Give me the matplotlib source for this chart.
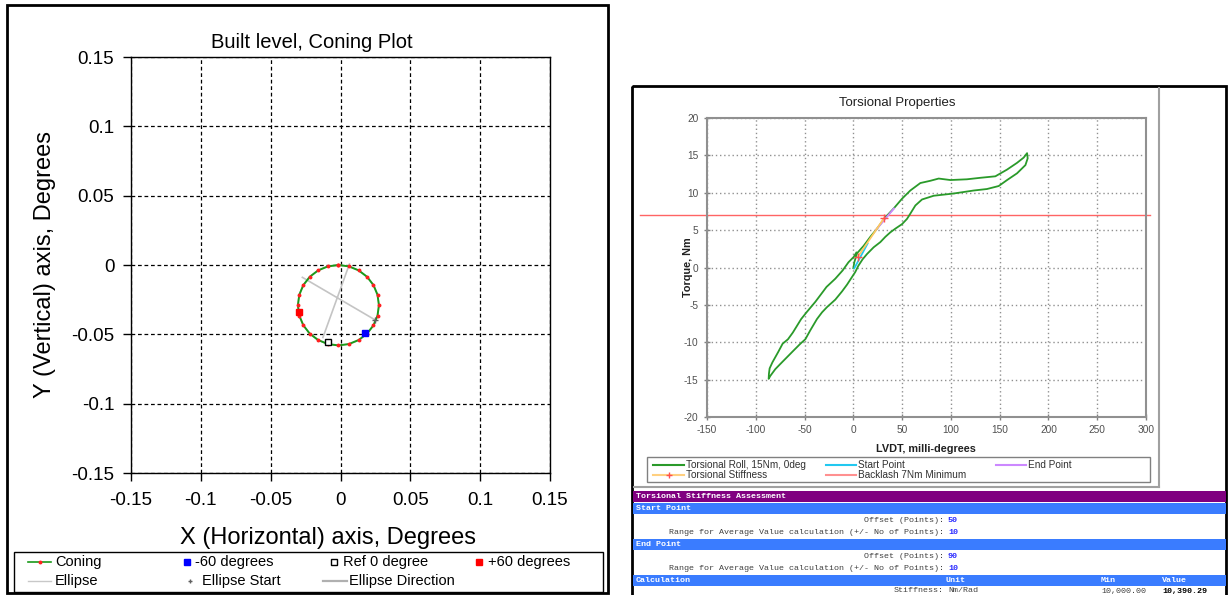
import matplotlib
matplotlib.use('Agg')
import matplotlib.pyplot as plt
from matplotlib.lines import Line2D
from matplotlib.patches import Rectangle
import numpy as np

W, H = 1231, 595
plt.rcParams['font.family'] = ['Liberation Sans', 'DejaVu Sans']
plt.rcParams['axes.unicode_minus'] = False

# ---------------- Left chart data ----------------
coning_x = [-0.0015, 0.0060, 0.0130, 0.0190, 0.0236, 0.0265, 0.0275, 0.0265, 0.0236, 0.0190,
            0.0130, 0.0060, -0.0015, -0.0090, -0.0160, -0.0220, -0.0266, -0.0295, -0.0305,
            -0.0295, -0.0266, -0.0220, -0.0160, -0.0090, -0.0015]
coning_y = [0.0000, -0.0010, -0.0039, -0.0085, -0.0145, -0.0215, -0.0290, -0.0365, -0.0435, -0.0495,
            -0.0541, -0.0570, -0.0580, -0.0570, -0.0541, -0.0495, -0.0435, -0.0365, -0.0290,
            -0.0215, -0.0145, -0.0085, -0.0039, -0.0010, 0.0000]
ellipse_x = [-0.0015, 0.0062, 0.0132, 0.0191, 0.0237, 0.0266, 0.0276, 0.0266, 0.0237, 0.0191,
             0.0132, 0.0062, -0.0015, -0.0092, -0.0162, -0.0221, -0.0267, -0.0296, -0.0306,
             -0.0296, -0.0267, -0.0221, -0.0162, -0.0092, -0.0015]
ellipse_y = [0.0001, -0.0009, -0.0038, -0.0084, -0.0144, -0.0214, -0.0290, -0.0366, -0.0436, -0.0496,
             -0.0542, -0.0571, -0.0581, -0.0571, -0.0542, -0.0496, -0.0436, -0.0366, -0.0290,
             -0.0214, -0.0144, -0.0084, -0.0038, -0.0009, 0.0001]
ellipse_dir_x = [-0.0273, 0.0248, np.nan, 0.0064, -0.0126]
ellipse_dir_y = [-0.0089, -0.0396, np.nan, 0.0007, -0.0523]
ellipse_start_x = [0.0248]
ellipse_start_y = [-0.0396]
minus60_x, minus60_y = [0.0178], [-0.0490]
ref0_x, ref0_y = [-0.0093], [-0.0553]
plus60_x, plus60_y = [-0.0300], [-0.0340]
left_ticks = [-0.15, -0.1, -0.05, 0, 0.05, 0.1, 0.15]
left_ticklabels = ['-0.15', '-0.1', '-0.05', '0', '0.05', '0.1', '0.15']

# ---------------- Right chart data ----------------
torsion_x = [0.0, 1.0, 3.8, 10.6, 17.4, 24.3, 32.8, 41.4, 49.9, 58.4, 68.7, 78.9, 87.5, 99.5,
             116.5, 130.2, 145.6, 157.6, 167.8, 174.6, 178.1,
             178.7, 176.4, 167.8, 157.6, 149.0, 137.0, 123.4, 102.9, 82.4, 70.4, 63.6, 58.4,
             55.0, 49.9, 43.1, 37.9, 32.8, 27.7, 20.8, 14.0, 9.5, 5.0, 2.0, -1.0, -6.5, -11.6,
             -18.5, -27.0, -32.1, -37.3, -44.1, -49.2, -54.3, -61.2, -68.0, -74.8, -80.0,
             -85.1, -86.8,
             -86.5, -85.8, -83.0, -77.0, -72.5, -67.0, -62.0, -53.5, -48.0, -39.0, -31.5,
             -27.5, -18.5, -11.0, -5.0, 0.3, 3.1]
torsion_y = [-0.1, 0.7, 1.9, 2.9, 4.1, 5.2, 6.7, 7.9, 9.2, 10.3, 11.3, 11.6, 11.9, 11.7,
             11.8, 12.0, 12.2, 13.1, 14.0, 14.7, 15.3,
             14.6, 13.7, 12.6, 11.7, 10.9, 10.5, 10.3, 9.9, 9.6, 9.1, 8.3, 7.2,
             6.5, 5.8, 5.2, 4.7, 4.1, 3.4, 2.7, 1.8, 1.1, 0.2, -0.6, -1.2, -2.3, -3.2,
             -4.3, -5.3, -6.0, -6.9, -8.4, -9.6, -10.2, -11.1, -12.0, -12.9, -13.6,
             -14.5, -14.9,
             -14.2, -13.5, -12.7, -11.3, -10.2, -9.6, -8.7, -6.9, -6.0, -4.6, -3.3,
             -2.6, -1.5, -0.4, 0.7, 1.4, 2.0]
start_pt_x, start_pt_y = [1.0, 14.6], [-0.1, 3.2]
end_pt_x, end_pt_y = [23.0, 41.7], [5.0, 7.9]
stiff_x, stiff_y = [4.4, 31.5], [1.4, 6.6]
backlash_x, backlash_y = [-219, 304], [7, 7]
right_xticks = [-150, -100, -50, 0, 50, 100, 150, 200, 250, 300]
right_yticks = [-20, -15, -10, -5, 0, 5, 10, 15, 20]

# table content
offset_start, range_start = '50', '10'
offset_end, range_end = '90', '10'
stiff_unit, stiff_min, stiff_value = 'Nm/Rad', '10,000.00', '10,390.29'

# ---------------- Figure ----------------
fig = plt.figure(figsize=(W / 100, H / 100), dpi=100)


def px_rect(x0, y0, x1, y1):
    return [x0 / W, 1 - y1 / H, (x1 - x0) / W, (y1 - y0) / H]


bg = fig.add_axes([0, 0, 1, 1])
bg.set_xlim(0, W)
bg.set_ylim(H, 0)
bg.axis('off')

# panel borders
bg.add_patch(Rectangle((7, 5), 601, 588, fill=False, ec='black', lw=2))
bg.add_patch(Rectangle((632, 86), 594, 530, fill=False, ec='black', lw=2))

# ---------------- Left chart ----------------
axL = fig.add_axes(px_rect(131, 57, 550, 473))
axL.plot(ellipse_x, ellipse_y, color='#c8c8c8', lw=1, zorder=2)
axL.plot(ellipse_dir_x, ellipse_dir_y, color='#c4c4c4', lw=1.2, zorder=2)
axL.plot(coning_x, coning_y, color='#1a9a1a', lw=1.4, marker='o', ms=1.8,
         mfc='#ff2020', mec='#ff2020', zorder=3)
axL.plot(ellipse_start_x, ellipse_start_y, ls='none', marker='+', ms=4, mew=1,
         color='#606060', zorder=4)
axL.plot(minus60_x, minus60_y, ls='none', marker='s', ms=4.5, color='#0000ff', zorder=5)
axL.plot(ref0_x, ref0_y, ls='none', marker='s', ms=4.5, mfc='white', mec='black', mew=1, zorder=5)
axL.plot(plus60_x, plus60_y, ls='none', marker='s', ms=4.5, color='#ff0000', zorder=5)
axL.set_xlim(-0.15, 0.15)
axL.set_ylim(-0.15, 0.15)
axL.set_xticks(left_ticks)
axL.set_xticklabels(left_ticklabels)
axL.set_yticks(left_ticks)
axL.set_yticklabels(left_ticklabels)
axL.tick_params(direction='out', length=6, width=1, labelsize=13.5, colors='black')
axL.tick_params(axis='x', pad=8)
axL.tick_params(axis='y', pad=6)
axL.grid(True, color='black', lw=0.9, linestyle=(0, (3, 2.2)))
for s in axL.spines.values():
    s.set_color('black')
    s.set_linewidth(1)

bg.text(312, 42, 'Built level, Coning Plot', fontsize=14.5, ha='center', va='center')
bg.text(328, 538, 'X (Horizontal) axis, Degrees', fontsize=17, ha='center', va='center')
bg.text(45, 265, 'Y (Vertical) axis, Degrees', fontsize=17, ha='center', va='center', rotation=90)

# left legend
bg.add_patch(Rectangle((14, 552), 589, 40, fill=False, ec='black', lw=1))
r1, r2 = 562, 581
lfs = 10.5
bg.add_line(Line2D([28, 51], [r1, r1], color='#1a9a1a', lw=1.2))
bg.add_line(Line2D([39.5], [r1], marker='o', ms=1.8, color='#ff2020', ls='none'))
bg.text(55, r1, 'Coning', fontsize=lfs, va='center')
bg.add_line(Line2D([187], [r1], marker='s', ms=4.5, color='#0000ff', ls='none'))
bg.text(195, r1, '-60 degrees', fontsize=lfs, va='center')
bg.add_line(Line2D([334], [r1], marker='s', ms=4.5, mfc='white', mec='black', ls='none'))
bg.text(343, r1, 'Ref 0 degree', fontsize=lfs, va='center')
bg.add_line(Line2D([479], [r1], marker='s', ms=4.5, color='#ff0000', ls='none'))
bg.text(488, r1, '+60 degrees', fontsize=lfs, va='center')
bg.add_line(Line2D([28, 51], [r2, r2], color='#c8c8c8', lw=1))
bg.text(55, r2, 'Ellipse', fontsize=lfs, va='center')
bg.add_line(Line2D([190], [r2], marker='+', ms=3, mew=1, color='#606060', ls='none'))
bg.text(202, r2, 'Ellipse Start', fontsize=lfs, va='center')
bg.add_line(Line2D([323, 347], [r2, r2], color='#b0b0b0', lw=1.6))
bg.text(349, r2, 'Ellipse Direction', fontsize=lfs, va='center')

# ---------------- Right chart ----------------
axR = fig.add_axes(px_rect(707, 118, 1146, 417))
axR.plot(torsion_x, torsion_y, color='#2a9a2a', lw=1.3, zorder=3)
axR.plot(start_pt_x, start_pt_y, color='#22c8f0', lw=1.3, zorder=4)
axR.plot(end_pt_x, end_pt_y, color='#cc88ff', lw=1.3, zorder=4)
axR.plot(stiff_x, stiff_y, color='#ffc860', lw=1.3, marker='+', ms=6, mew=1,
         mec='#ff5050', zorder=5)
axR.plot(backlash_x, backlash_y, color='#ff6464', lw=1, clip_on=False, zorder=2)
axR.set_xlim(-150, 300)
axR.set_ylim(-20, 20)
axR.set_xticks(right_xticks)
axR.set_yticks(right_yticks)
axR.tick_params(direction='inout', length=4, width=1, color='#808080',
                labelsize=7.3, labelcolor='#505050', pad=4)
axR.grid(True, color='#909090', lw=1, linestyle=(0, (1, 2)))
for s in axR.spines.values():
    s.set_color('#909090')
    s.set_linewidth(1.5)

# chart area frame lines
bg.add_line(Line2D([1159, 1159], [88, 487], color='#a0a0a0', lw=1.5))
bg.add_line(Line2D([634, 1159], [487, 487], color='#a0a0a0', lw=1.5))

bg.text(897, 103, 'Torsional Properties', fontsize=9.5, ha='center', va='center', color='#202020')
bg.text(926, 449, 'LVDT, milli-degrees', fontsize=7.8, fontweight='bold', ha='center',
        va='center', color='#202020')
bg.text(688, 267, 'Torque, Nm', fontsize=7.8, fontweight='bold', ha='center', va='center',
        rotation=90, color='#202020')

# right legend
bg.add_patch(Rectangle((647, 457), 503, 25, fill=False, ec='#808080', lw=1))
q1, q2 = 465, 475
rfs = 7.2
bg.add_line(Line2D([653, 684], [q1, q1], color='#2a9a2a', lw=1.5))
bg.text(686, q1, 'Torsional Roll, 15Nm, 0deg', fontsize=rfs, va='center', color='#303030')
bg.add_line(Line2D([826, 856], [q1, q1], color='#22c8f0', lw=1.5))
bg.text(858, q1, 'Start Point', fontsize=rfs, va='center', color='#303030')
bg.add_line(Line2D([996, 1026], [q1, q1], color='#cc88ff', lw=1.5))
bg.text(1028, q1, 'End Point', fontsize=rfs, va='center', color='#303030')
bg.add_line(Line2D([653, 684], [q2, q2], color='#ffd080', lw=1.5))
bg.add_line(Line2D([668.5], [q2], marker='+', ms=5, mew=1, color='#ff5050', ls='none'))
bg.text(686, q2, 'Torsional Stiffness', fontsize=rfs, va='center', color='#303030')
bg.add_line(Line2D([826, 856], [q2, q2], color='#ff9090', lw=1.5))
bg.text(858, q2, 'Backlash 7Nm Minimum', fontsize=rfs, va='center', color='#303030')

# ---------------- Table ----------------
mono = ['Liberation Mono', 'DejaVu Sans Mono']
tfs = 6.0
purple = '#800080'
blue = '#3a7cff'
bg.add_patch(Rectangle((633, 491), 593, 11, color=purple, lw=0))
for ytop in (503, 539, 575):
    bg.add_patch(Rectangle((633, ytop), 593, 11, color=blue, lw=0))

bg.text(636, 496.5, 'Torsional Stiffness Assessment', family=mono, fontsize=tfs,
        fontweight='bold', color='white', va='center')
bg.text(636, 508.5, 'Start Point', family=mono, fontsize=tfs, fontweight='bold',
        color='white', va='center')
bg.text(636, 544.5, 'End Point', family=mono, fontsize=tfs, fontweight='bold',
        color='white', va='center')
bg.text(636, 580.5, 'Calculation', family=mono, fontsize=tfs, fontweight='bold',
        color='white', va='center')
bg.text(946, 580.5, 'Unit', family=mono, fontsize=tfs, fontweight='bold', color='white', va='center')
bg.text(1101, 580.5, 'Min', family=mono, fontsize=tfs, fontweight='bold', color='white', va='center')
bg.text(1162, 580.5, 'Value', family=mono, fontsize=tfs, fontweight='bold', color='white', va='center')

lab_col = '#404040'
val_col = '#2a2aff'
rows = [(520, 'Offset (Points):', offset_start),
        (532, 'Range for Average Value calculation (+/- No of Points):', range_start),
        (557, 'Offset (Points):', offset_end),
        (569, 'Range for Average Value calculation (+/- No of Points):', range_end)]
for yy, lab, val in rows:
    bg.text(944, yy, lab, family=mono, fontsize=tfs, color=lab_col, ha='right', va='center')
    bg.text(948, yy, val, family=mono, fontsize=tfs, fontweight='bold', color=val_col,
            va='center')

bg.text(944, 591, 'Stiffness:', family=mono, fontsize=tfs, color=lab_col, ha='right', va='center')
bg.text(948, 591, stiff_unit, family=mono, fontsize=tfs, color=lab_col, va='center')
bg.text(1101, 591, stiff_min, family=mono, fontsize=tfs, color=lab_col, va='center')
bg.text(1162, 591, stiff_value, family=mono, fontsize=tfs, fontweight='bold', color='black',
        va='center')

fig.savefig('out.png', dpi=100)
